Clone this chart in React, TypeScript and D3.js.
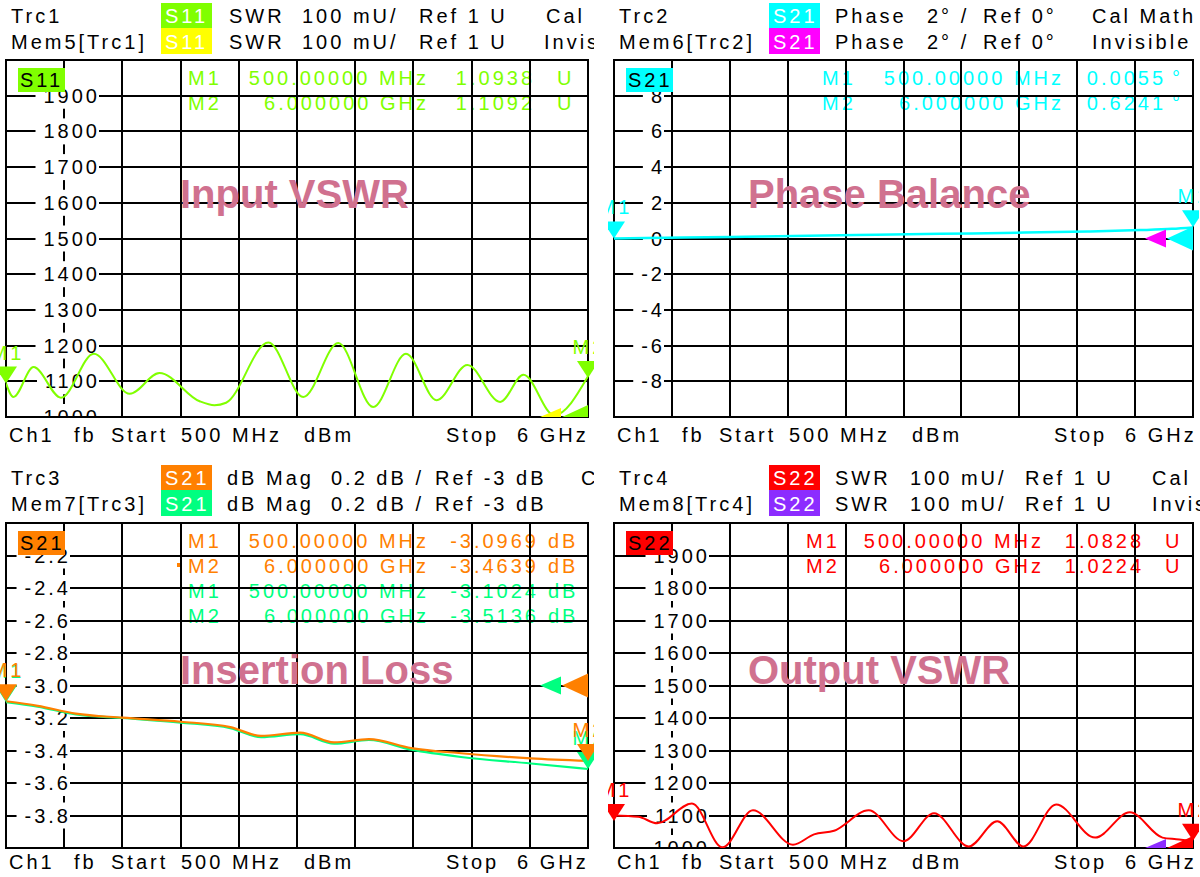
import React from 'react';
import * as d3 from 'd3';

// ---------------- data ----------------
const freqStartGHz = 0.5;
const freqStopGHz = 6.0;

// Input VSWR (S11), values in mU
const s11Freq = [0.5, 0.57, 0.76, 1.02, 1.33, 1.67, 1.95, 2.33, 2.47, 2.58, 2.98, 3.31, 3.64, 3.97, 4.28, 4.57, 4.86, 5.17, 5.39, 5.68, 6.0];
const s11Swr = [1094, 1056, 1140, 1054, 1177, 1065, 1123, 1044, 1033, 1040, 1209, 1056, 1207, 1028, 1177, 1047, 1146, 1042, 1118, 1005, 1114];
const s11Markers = [1093.8, 1109.2];
const swrTicks = [1900, 1800, 1700, 1600, 1500, 1400, 1300, 1200, 1100, 1000];
const s11Readout = [
  ['M1', '500.00000 MHz', '1.0938', 'U'],
  ['M2', '6.000000 GHz', '1.1092', 'U'],
];

// Phase balance (S21 phase), degrees
const phaseFreq = [0.5, 1.0, 1.6, 2.2, 2.8, 3.3, 3.9, 4.4, 5.0, 5.5, 5.8, 6.0];
const phaseDeg = [0.0055, 0.04, 0.09, 0.14, 0.19, 0.24, 0.28, 0.33, 0.39, 0.47, 0.54, 0.62];
const phaseMarkers = [0.0055, 0.6241];
const phaseTicks = [8, 6, 4, 2, 0, -2, -4, -6, -8];
const phaseReadout = [
  ['M1', '500.00000 MHz', '0.0055', '°'],
  ['M2', '6.000000 GHz', '0.6241', '°'],
];

// Insertion loss (S21 dB Mag) trace and memory
const ilFreq = [0.5, 0.8, 1.16, 1.6, 2.15, 2.62, 2.91, 3.28, 3.6, 3.93, 4.33, 4.8, 5.46, 6.0];
const ilTrace = [-3.097, -3.125, -3.173, -3.198, -3.223, -3.256, -3.31, -3.29, -3.35, -3.33, -3.385, -3.417, -3.448, -3.464];
const ilMemory = [-3.102, -3.13, -3.178, -3.2, -3.228, -3.262, -3.318, -3.3, -3.358, -3.335, -3.395, -3.44, -3.48, -3.514];
const ilMarkers = [-3.0969, -3.4639];
const ilMemMarkers = [-3.1024, -3.5136];
const ilTicks = [-2.2, -2.4, -2.6, -2.8, -3.0, -3.2, -3.4, -3.6, -3.8];
const ilReadout = [
  ['M1', '500.00000 MHz', '-3.0969', 'dB'],
  ['M2', '6.000000 GHz', '-3.4639', 'dB'],
];
const ilMemReadout = [
  ['M1', '500.00000 MHz', '-3.1024', 'dB'],
  ['M2', '6.000000 GHz', '-3.5136', 'dB'],
];

// Output VSWR (S22), values in mU
const s22Freq = [0.5, 0.73, 0.91, 1.24, 1.53, 1.82, 2.2, 2.4, 2.59, 2.92, 3.25, 3.54, 3.87, 4.14, 4.39, 4.7, 5.07, 5.4, 5.71, 5.84, 6.0];
const s22Swr = [1100, 1096, 1076, 1137, 1002, 1116, 1010, 1042, 1053, 1116, 1021, 1107, 1005, 1082, 1005, 1134, 1032, 1110, 1032, 1027, 1022];
const s22Markers = [1082.8, 1022.4];
const s22Readout = [
  ['M1', '500.00000 MHz', '1.0828', 'U'],
  ['M2', '6.000000 GHz', '1.0224', 'U'],
];

const footerTokens = ['Ch1', 'fb', 'Start', '500 MHz', 'dBm', 'Stop', '6 GHz'];

// ---------------- style ----------------
const FONT = "'Liberation Sans', Arial, sans-serif";
const FS = 20;
const LS = 3;
const C = {
  s11: '#80ff00',
  mem5: '#ffff00',
  phase: '#00ffff',
  mem6: '#ff00ff',
  il: '#ff8000',
  mem7: '#00ff80',
  s22: '#ff0000',
  mem8: '#8c2cff',
  title: '#d0718f',
};

let ctx: CanvasRenderingContext2D | null = null;
function textWidth(s: string, size = FS, ls = LS) {
  if (!ctx) ctx = document.createElement('canvas').getContext('2d');
  if (!ctx) return s.length * 14;
  ctx.font = `${size}px 'Liberation Sans'`;
  return ctx.measureText(s).width + ls * (s.length - 1);
}

const footerDx = [3, 68, 105, 175, 298, 440, 511];

const panels = [
  {
    id: 0, x0: 6, x1: 588, y0: 60, y1: 417, headY: [23, 49], boxY: [3, 28, 54], footY: 442,
    yDomain: [1000, 2000], ticks: swrTicks, fmt: (v: number) => String(v), labelRight: 97,
    header: [
      { label: 'Trc1', tag: 'S11', color: C.s11, items: [[223, 'SWR'], [296, '100 mU/'], [413, 'Ref 1 U'], [540, 'Cal']] },
      { label: 'Mem5[Trc1]', tag: 'S11', color: C.mem5, items: [[223, 'SWR'], [296, '100 mU/'], [413, 'Ref 1 U'], [538, 'Invis']] },
    ],
    tag: { text: 'S11', color: C.s11 },
    cols: [188, 426, 532, 557],
    readouts: [{ color: C.s11, rows: s11Readout, active: -1 }],
    title: { text: 'Input VSWR', dx: 174, y: 208 },
    traces: [{ f: s11Freq, v: s11Swr, color: C.s11, w: 2 }],
    markers: [{ values: s11Markers, color: C.s11 }],
    refs: [{ value: 1000, color: C.mem5, mem: true }, { value: 1000, color: C.s11, mem: false }],
  },
  {
    id: 1, x0: 614, x1: 1193, y0: 60, y1: 417, headY: [23, 49], boxY: [3, 28, 54], footY: 442,
    yDomain: [-10, 10], ticks: phaseTicks, fmt: (v: number) => String(v), labelRight: 662,
    header: [
      { label: 'Trc2', tag: 'S21', color: C.phase, items: [[221, 'Phase'], [313, '2° /'], [369, 'Ref 0°'], [478, 'Cal Math']] },
      { label: 'Mem6[Trc2]', tag: 'S21', color: C.mem6, items: [[221, 'Phase'], [313, '2° /'], [369, 'Ref 0°'], [478, 'Invisible']] },
    ],
    tag: { text: 'S21', color: C.phase },
    cols: [822, 1061, 1163, 1172],
    readouts: [{ color: C.phase, rows: phaseReadout, active: -1 }],
    title: { text: 'Phase Balance', dx: 134, y: 208 },
    traces: [{ f: phaseFreq, v: phaseDeg, color: C.phase, w: 2.5 }],
    markers: [{ values: phaseMarkers, color: C.phase }],
    refs: [{ value: 0, color: C.mem6, mem: true }, { value: 0, color: C.phase, mem: false }],
  },
  {
    id: 2, x0: 6, x1: 588, y0: 523, y1: 848, headY: [485, 511], boxY: [465, 490, 516], footY: 869,
    yDomain: [-4, -2], ticks: ilTicks, fmt: (v: number) => v.toFixed(1), labelRight: 68,
    header: [
      { label: 'Trc3', tag: 'S21', color: C.il, items: [[221, 'dB Mag'], [325, '0.2 dB /'], [429, 'Ref -3 dB'], [575, 'C']] },
      { label: 'Mem7[Trc3]', tag: 'S21', color: C.mem7, items: [[221, 'dB Mag'], [325, '0.2 dB /'], [429, 'Ref -3 dB']] },
    ],
    tag: { text: 'S21', color: C.il },
    cols: [188, 426, 536, 548],
    readouts: [{ color: C.il, rows: ilReadout, active: 1 }, { color: C.mem7, rows: ilMemReadout, active: -1 }],
    title: { text: 'Insertion Loss', dx: 174, y: 684 },
    traces: [{ f: ilFreq, v: ilMemory, color: C.mem7, w: 2.2 }, { f: ilFreq, v: ilTrace, color: C.il, w: 2.2 }],
    markers: [{ values: ilMemMarkers, color: C.mem7 }, { values: ilMarkers, color: C.il }],
    refs: [{ value: -3, color: C.mem7, mem: true }, { value: -3, color: C.il, mem: false }],
  },
  {
    id: 3, x0: 614, x1: 1193, y0: 523, y1: 848, headY: [485, 511], boxY: [465, 490, 516], footY: 869,
    yDomain: [1000, 2000], ticks: swrTicks, fmt: (v: number) => String(v), labelRight: 707,
    header: [
      { label: 'Trc4', tag: 'S22', color: C.s22, items: [[221, 'SWR'], [296, '100 mU/'], [411, 'Ref 1 U'], [538, 'Cal']] },
      { label: 'Mem8[Trc4]', tag: 'S22', color: C.mem8, items: [[221, 'SWR'], [296, '100 mU/'], [411, 'Ref 1 U'], [538, 'Invis']] },
    ],
    tag: { text: 'S22', color: C.s22 },
    cols: [806, 1041, 1141, 1165],
    readouts: [{ color: C.s22, rows: s22Readout, active: -1 }],
    title: { text: 'Output VSWR', dx: 134, y: 684 },
    traces: [{ f: s22Freq, v: s22Swr, color: C.s22, w: 2 }],
    markers: [{ values: s22Markers, color: C.s22 }],
    refs: [{ value: 1000, color: C.mem8, mem: true }, { value: 1000, color: C.s22, mem: false }],
  },
];

const txt = { fontFamily: FONT, fontSize: FS, letterSpacing: LS } as React.CSSProperties;

function PanelView({ p }: { p: any }) {
  const x = d3.scaleLinear().domain([freqStartGHz, freqStopGHz]).range([p.x0, p.x1]);
  const y = d3.scaleLinear().domain(p.yDomain).range([p.y1, p.y0]);
  const xDivs = d3.range(11).map((i) => freqStartGHz + (i * (freqStopGHz - freqStartGHz)) / 10);
  const yDivs = d3.range(11).map((i) => p.yDomain[0] + (i * (p.yDomain[1] - p.yDomain[0])) / 10);
  const line = d3
    .line<[number, number]>()
    .x((d) => x(d[0]))
    .y((d) => y(d[1]))
    .curve(d3.curveMonotoneX);

  let row = 0;
  const readoutEls: React.ReactNode[] = [];
  p.readouts.forEach((g: any, gi: number) => {
    g.rows.forEach((r: string[], ri: number) => {
      const by = p.y0 + 25 + row * 25;
      const fw = textWidth(r[1]);
      const vw = textWidth(r[2]);
      readoutEls.push(
        <g key={`${gi}-${ri}`} fill={g.color} style={txt}>
          {g.active === ri && <rect x={p.cols[0] - 11} y={by - 10} width={4} height={4} fill={g.color} />}
          <text x={p.cols[0]} y={by}>{r[0]}</text>
          <text x={p.cols[1] - fw} y={by}>{r[1]}</text>
          <text x={p.cols[2] - vw} y={by}>{r[2]}</text>
          <text x={p.cols[3]} y={by}>{r[3]}</text>
        </g>
      );
      row++;
    });
  });

  const w = p.x1 - p.x0;
  const h = p.y1 - p.y0;

  return (
    <g>
      <defs>
        <clipPath id={`plot${p.id}`}>
          <rect x={p.x0} y={p.y0} width={w} height={h} />
        </clipPath>
        <clipPath id={`mark${p.id}`}>
          <rect x={p.x0 - 6} y={p.y0} width={w + 12} height={h} />
        </clipPath>
        <clipPath id={`head${p.id}`}>
          <rect x={p.x0 - 6} y={p.boxY[0] - 5} width={594} height={70} />
        </clipPath>
      </defs>

      {/* header */}
      <g clipPath={`url(#head${p.id})`} style={txt}>
        {p.header.map((hr: any, r: number) => (
          <g key={r}>
            <text x={p.x0 + 5} y={p.headY[r]} fill="#000">{hr.label}</text>
            <rect x={p.x0 + 155} y={p.boxY[r]} width={51} height={p.boxY[r + 1] - p.boxY[r]} fill={hr.color} />
            <text x={p.x0 + 159} y={p.headY[r]} fill="#fff">{hr.tag}</text>
            {hr.items.map(([dx, t]: [number, string]) => (
              <text key={dx} x={p.x0 + dx} y={p.headY[r]} fill="#000">{t}</text>
            ))}
          </g>
        ))}
      </g>

      {/* marker readouts (under the grid) */}
      {readoutEls}

      {/* grid */}
      <g stroke="#000" strokeWidth={2} shapeRendering="crispEdges">
        {xDivs.map((f, i) => (
          <line key={`vx${i}`} x1={x(f)} x2={x(f)} y1={p.y0} y2={p.y1} />
        ))}
        {yDivs.map((v, i) => (
          <line key={`hy${i}`} x1={p.x0} x2={p.x1} y1={y(v)} y2={y(v)} />
        ))}
      </g>

      {/* y labels */}
      <g clipPath={`url(#plot${p.id})`} style={txt}>
        {p.ticks.map((v: number) => {
          const t = p.fmt(v);
          const tw = textWidth(t);
          const sx = p.labelRight - tw;
          const yy = y(v);
          return (
            <g key={t}>
              <rect x={sx - 8} y={yy - 13} width={tw + 10} height={26} fill="#fff" />
              <text x={sx} y={yy + 7} fill="#000">{t}</text>
            </g>
          );
        })}
      </g>

      <rect x={p.x0} y={p.y0} width={w} height={h} fill="none" stroke="#000" strokeWidth={2} shapeRendering="crispEdges" />

      {/* traces */}
      <g clipPath={`url(#plot${p.id})`}>
        {p.traces.map((tr: any, i: number) => (
          <path key={i} d={line(d3.zip(tr.f, tr.v) as [number, number][]) || ''} fill="none" stroke={tr.color} strokeWidth={tr.w} />
        ))}
      </g>

      {/* title */}
      <text x={p.x0 + p.title.dx} y={p.title.y} fill={C.title} style={{ fontFamily: FONT, fontSize: 40, fontWeight: 'bold' }}>
        {p.title.text}
      </text>

      {/* trace tag */}
      <rect x={p.x0 + 12} y={p.y0 + 8} width={47} height={24} fill={p.tag.color} />
      <text x={p.x0 + 14} y={p.y0 + 27} fill="#000" style={txt}>{p.tag.text}</text>

      {/* reference indicators and markers */}
      <g clipPath={`url(#mark${p.id})`}>
        {p.refs.map((r: any, i: number) => {
          const yr = y(r.value);
          const pts = r.mem
            ? [[p.x1 - 48, yr], [p.x1 - 27, yr - 9], [p.x1 - 27, yr + 9]]
            : [[p.x1 - 26, yr], [p.x1, yr - 12], [p.x1, yr + 12]];
          return <polygon key={`r${i}`} points={pts.map((q) => q.join(',')).join(' ')} fill={r.color} />;
        })}
        {p.markers.map((m: any, mi: number) =>
          m.values.map((v: number, i: number) => {
            const mx = i === 0 ? x(freqStartGHz) : x(freqStopGHz);
            const ty = y(v);
            return (
              <g key={`m${mi}-${i}`}>
                <polygon points={`${mx - 11},${ty - 17} ${mx + 11},${ty - 17} ${mx},${ty}`} fill={m.color} />
                <text x={mx + LS / 2} y={ty - 24} textAnchor="middle" fill={m.color} style={txt}>{`M${i + 1}`}</text>
              </g>
            );
          })
        )}
      </g>

      {/* footer */}
      <g style={txt} fill="#000">
        {footerTokens.map((t, i) => (
          <text key={t} x={p.x0 + footerDx[i]} y={p.footY}>{t}</text>
        ))}
      </g>
    </g>
  );
}

export default function App() {
  return (
    <svg width={1200} height={877} viewBox="0 0 1200 877" style={{ position: 'absolute', left: 0, top: 0, background: '#fff' }}>
      <rect width={1200} height={877} fill="#fff" />
      {panels.map((p) => (
        <PanelView key={p.id} p={p} />
      ))}
    </svg>
  );
}
